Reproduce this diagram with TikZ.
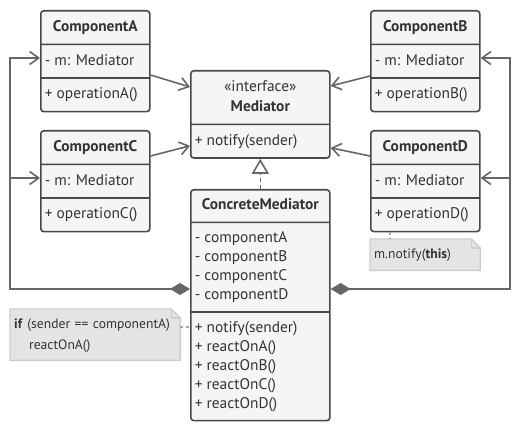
\documentclass[tikz,border=0pt]{standalone}
\usepackage{fontspec}
\setmainfont{PT Sans}
\usetikzlibrary{positioning, arrows.meta, shapes.multipart, calc}
\pgfdeclarelayer{background}
\pgfsetlayers{background,main}
\definecolor{boxfill}{HTML}{F5F5F5}
\definecolor{boxline}{HTML}{484848}
\definecolor{linkgray}{HTML}{666666}
\definecolor{notefill}{HTML}{E4E4E4}
\definecolor{noteline}{HTML}{CDCDCD}
\definecolor{txt}{HTML}{333333}
\newcommand{\umlfont}{\fontsize{15.4}{20}\selectfont}
\tikzset{
    umlbox/.style={rectangle split, rectangle split parts=#1, draw=boxline, fill=boxfill,
      line width=1.6pt, rounded corners=3pt, anchor=north west, inner xsep=4pt, inner ysep=6pt,
      text=txt, font=\umlfont, rectangle split part align={center,left,left}},
    comp/.style={umlbox=3, minimum width=109pt},
    assoc/.style={draw=linkgray, line width=1.6pt},
    barb/.style={-{Straight Barb[length=9pt,width=13pt]}},
    notetext/.style={anchor=north west, align=left, inner xsep=4pt, inner ysep=0pt, text=txt, font=\fontsize{13.6}{21}\selectfont},
    notebox/.style={draw=noteline, fill=notefill, line width=1.4pt},
    notelink/.style={draw=noteline!80!black, line width=1.2pt, dash pattern=on 3pt off 3pt},
}

\begin{document}
\begin{tikzpicture}[x=1pt, y=-1pt]
    \useasboundingbox (0,0) rectangle (520,430);

    \node[comp] (ca) at (40,10) {\strut\textbf{ComponentA}\nodepart{two}\strut- m: Mediator\nodepart{three}\strut+ operationA()};
    \node[comp] (cb) at (370,10) {\strut\textbf{ComponentB}\nodepart{two}\strut- m: Mediator\nodepart{three}\strut+ operationB()};
    \node[comp] (cc) at (40,130) {\strut\textbf{ComponentC}\nodepart{two}\strut- m: Mediator\nodepart{three}\strut+ operationC()};
    \node[comp] (cd) at (370,130) {\strut\textbf{ComponentD}\nodepart{two}\strut- m: Mediator\nodepart{three}\strut+ operationD()};

    \node[umlbox=2, align=center, minimum width=139pt] (med) at (190,70)
      {\strut«interface»\\\strut\textbf{Mediator}\nodepart{two}\strut+ notify(sender)};
    \node[umlbox=3, align=left, minimum width=139pt, font=\fontsize{15.4}{19}\selectfont] (cm) at (190,189)
      {\strut\textbf{ConcreteMediator}
       \nodepart{two}\strut- componentA\\\strut- componentB\\\strut- componentC\\\strut- componentD
       \nodepart{three}\strut+ notify(sender)\\\strut+ reactOnA()\\\strut+ reactOnB()\\\strut+ reactOnC()\\\strut+ reactOnD()};

    \node[notetext, text width=162pt, minimum height=51pt] (n1) at (10,309)
      {\strut\textbf{if} (sender == componentA)\\\strut\hspace*{15pt}reactOnA()};
    \node[notetext, text width=102pt, minimum height=31pt] (n2) at (370,239)
      {\strut m.notify(\textbf{this})};

    \begin{pgfonlayer}{background}
      \draw[notebox] (n1.south west) -- (n1.north west) -- ([xshift=-9pt]n1.north east)
        -- ([yshift=-9pt]n1.north east) -- (n1.south east) -- cycle;
      \draw[notebox, fill=none] ([xshift=-9pt]n1.north east) -- ([xshift=-9pt,yshift=-9pt]n1.north east) -- ([yshift=-9pt]n1.north east);
      \draw[notebox] (n2.south west) -- (n2.north west) -- ([xshift=-9pt]n2.north east)
        -- ([yshift=-9pt]n2.north east) -- (n2.south east) -- cycle;
      \draw[notebox, fill=none] ([xshift=-9pt]n2.north east) -- ([xshift=-9pt,yshift=-9pt]n2.north east) -- ([yshift=-9pt]n2.north east);
    \end{pgfonlayer}

    \draw[assoc, barb] ([yshift=-65pt]ca.north east) -- ([yshift=-17pt]med.north west);
    \draw[assoc, barb] ([yshift=-26pt]cc.north east) -- ([yshift=13pt]med.south west);
    \draw[assoc, barb] ([yshift=-66pt]cb.north west) -- ([yshift=-16pt]med.north east);
    \draw[assoc, barb] ([yshift=-26pt]cd.north west) -- ([yshift=11pt]med.south east);

    \draw[assoc, dash pattern=on 4pt off 3pt, -{Triangle[open, length=15pt, width=17pt, fill=white]}] (cm.north) -- (med.south);

    \coordinate (ain) at ([yshift=-48pt]ca.north west);
    \coordinate (bin) at ([yshift=-48pt]cb.north east);
    \coordinate (cin) at ([yshift=-48pt]cc.north west);
    \coordinate (din) at ([yshift=-48pt]cd.north east);
    \coordinate (lx) at (10,58);
    \coordinate (rx) at (510,58);

    \draw[assoc, {Diamond[length=20pt, width=12pt]}-{Straight Barb[length=9pt,width=13pt]}] ([yshift=-100pt]cm.north west) -| (lx) -- (ain);
    \draw[assoc, barb] (lx |- cin) -- (cin);
    \draw[assoc, {Diamond[length=20pt, width=12pt]}-{Straight Barb[length=9pt,width=13pt]}] ([yshift=-100pt]cm.north east) -| (rx) -- (bin);
    \draw[assoc, barb] (rx |- din) -- (din);

    \draw[notelink] ([yshift=-18pt]n1.north east) -- ([yshift=-138pt]cm.north west);
    \draw[notelink] ([xshift=20pt]cd.south west) -- ([xshift=20pt]n2.north west);
\end{tikzpicture}
\end{document}
